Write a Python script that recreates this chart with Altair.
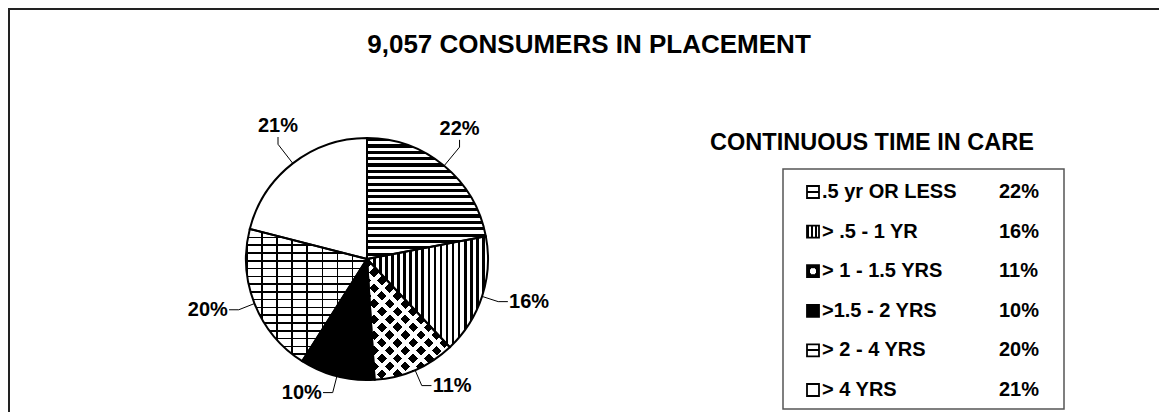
import math
import altair as alt
import pandas as pd

# ---------------- data ----------------
categories = [".5 yr OR LESS", "> .5 - 1 YR", "> 1 - 1.5 YRS", ">1.5 - 2 YRS", "> 2 - 4 YRS", "> 4 YRS"]
values = [22, 16, 11, 10, 20, 21]
title_text = "9,057 CONSUMERS IN PLACEMENT"
legend_title = "CONTINUOUS TIME IN CARE"

# ---------------- layout / style ----------------
W, H = 1151, 404
R = 121
CX, CY = 359, 251
FONT = "Liberation Sans, Arial, sans-serif"

xs = alt.Scale(domain=[-CX / R, (W - CX) / R], nice=False, zero=False)
ys = alt.Scale(domain=[-(H - CY) / R, CY / R], nice=False, zero=False)
ts = alt.Scale(domain=[0, 100], range=[0, 2 * math.pi])

df = pd.DataFrame({"cat": categories, "val": values, "order": list(range(len(values)))})
one = pd.DataFrame({"k": [0]})


def stripes(n, frac, c_on, c_off, x1=0, y1=0, x2=0, y2=1):
    stops = []
    for i in range(n):
        s, m, e = i / n, (i + frac) / n, (i + 1) / n
        stops += [
            {"offset": round(s, 5), "color": c_on},
            {"offset": round(m, 5), "color": c_on},
            {"offset": round(m, 5), "color": c_off},
            {"offset": round(e, 5), "color": c_off},
        ]
    return {"gradient": "linear", "x1": x1, "y1": y1, "x2": x2, "y2": y2, "stops": stops}


def wedge_box(a0, a1):
    pts = [(0.0, 0.0)]
    for a in [a0, a1] + [c for c in (0, 90, 180, 270, 360) if a0 < c < a1]:
        r = math.radians(a)
        pts.append((math.sin(r) * R, -math.cos(r) * R))
    xsx = [p[0] for p in pts]
    ysy = [p[1] for p in pts]
    return max(xsx) - min(xsx), max(ysy) - min(ysy)


# wedge bounding boxes (for pattern scaling only)
tot = sum(values)
angles = []
acc = 0
for v in values:
    angles.append((acc / tot * 360, (acc + v) / tot * 360))
    acc += v
boxes = [wedge_box(a0, a1) for a0, a1 in angles]

CLEAR = "rgba(0,0,0,0)"


def diag(w, h, period, frac, c_on, c_off, flip=False):
    k = (w + h) / (w * w + h * h)
    a, b = k * w, k * h
    n = max(1, round((w + h) / math.sqrt(2) / period))
    if flip:
        return stripes(n, frac, c_on, c_off, x1=1, y1=0, x2=1 - a, y2=b)
    return stripes(n, frac, c_on, c_off, x1=0, y1=0, x2=a, y2=b)


w0, h0 = boxes[0]
w1, h1 = boxes[1]
w2, h2 = boxes[2]
w4, h4 = boxes[4]

pie_fills = {
    0: [stripes(max(1, round(h0 / 6.3)), 0.5, "black", "white", 0, 0, 0, 1)],
    1: [stripes(max(1, round(w1 / 6.2)), 0.45, "black", "white", 0, 0, 1, 0)],
    2: ["white",
        diag(w2, h2, 11.5, 0.62, "black", CLEAR),
        diag(w2, h2, 11.5, 0.38, "white", CLEAR, flip=True)],
    3: ["black"],
    4: ["white",
        stripes(max(1, round(h4 / 7.6)), 0.2, "black", CLEAR, 0, 0, 0, 1),
        stripes(max(1, round(w4 / 15)), 0.1, "black", CLEAR, 0, 0, 1, 0)],
    5: ["white"],
}

icon_fills = {
    0: {"gradient": "linear", "x1": 0, "y1": 0, "x2": 0, "y2": 1,
        "stops": [{"offset": 0, "color": "white"}, {"offset": 0.4, "color": "white"},
                  {"offset": 0.4, "color": "black"}, {"offset": 0.6, "color": "black"},
                  {"offset": 0.6, "color": "white"}, {"offset": 1, "color": "white"}]},
    1: stripes(3, 0.6, "black", "white", 0, 0, 1, 0),
    2: {"gradient": "radial", "x1": 0.5, "y1": 0.5, "x2": 0.5, "y2": 0.5, "r1": 0, "r2": 0.5,
        "stops": [{"offset": 0, "color": "white"}, {"offset": 0.55, "color": "white"},
                  {"offset": 0.55, "color": "black"}, {"offset": 1, "color": "black"}]},
    3: "black",
    4: {"gradient": "linear", "x1": 0, "y1": 0, "x2": 0, "y2": 1,
        "stops": [{"offset": 0, "color": "white"}, {"offset": 0.42, "color": "white"},
                  {"offset": 0.42, "color": "black"}, {"offset": 0.58, "color": "black"},
                  {"offset": 0.58, "color": "white"}, {"offset": 1, "color": "white"}]},
    5: "white",
}

# ---------------- pie ----------------
pie_base = (
    alt.Chart(df)
    .transform_window(cum="sum(val)", sort=[alt.SortField("order")], frame=[None, 0])
    .transform_calculate(start="datum.cum - datum.val", cx="0", cy="0")
)

pos = dict(
    x=alt.X("cx:Q", scale=xs, axis=None),
    y=alt.Y("cy:Q", scale=ys, axis=None),
    theta=alt.Theta("start:Q", scale=ts, stack=False),
    theta2=alt.Theta2("cum:Q"),
)

layers = []

# outer frame
layers.append(alt.Chart(one).mark_rule(color="#222", strokeWidth=2).encode(
    x=alt.value(0), x2=alt.value(W), y=alt.value(1)))
layers.append(alt.Chart(one).mark_rule(color="#222", strokeWidth=2).encode(
    x=alt.value(1), y=alt.value(0), y2=alt.value(H)))

# titles
layers.append(alt.Chart(one).mark_text(
    text=title_text, font=FONT, fontSize=26, fontWeight="bold", align="center",
    baseline="alphabetic", color="black").encode(x=alt.value(581), y=alt.value(45)))
layers.append(alt.Chart(one).mark_text(
    text=legend_title, font=FONT, fontSize=23.5, fontWeight="bold", align="center",
    baseline="alphabetic", color="black").encode(x=alt.value(864), y=alt.value(142)))

# legend box
layers.append(alt.Chart(one).mark_rect(filled=False, stroke="#555", strokeWidth=1.5).encode(
    x=alt.value(775), x2=alt.value(1056), y=alt.value(161), y2=alt.value(401)))

leg_y = alt.Y("cat:N", sort=categories,
              scale=alt.Scale(type="point", domain=categories, range=[184, 382], padding=0),
              axis=None)
leg_base = alt.Chart(df).transform_calculate(pct="datum.val + '%'")

for i in range(len(categories)):
    layers.append(
        leg_base.transform_filter(alt.datum.order == i)
        .mark_square(size=144, filled=True, fill=icon_fills[i], stroke="black",
                     strokeWidth=1.8, opacity=1)
        .encode(x=alt.value(805), y=leg_y)
    )

layers.append(leg_base.mark_text(align="left", baseline="middle", font=FONT, fontSize=20,
                                 fontWeight="bold", color="black").encode(
    x=alt.value(814), y=leg_y, text="cat:N"))
layers.append(leg_base.mark_text(align="left", baseline="middle", font=FONT, fontSize=20,
                                 fontWeight="bold", color="black").encode(
    x=alt.value(991), y=leg_y, text="pct:N"))

# pie wedges with patterns
for i in range(len(categories)):
    for f in pie_fills[i]:
        layers.append(
            pie_base.transform_filter(alt.datum.order == i)
            .mark_arc(radius=R, fill=f, strokeWidth=0)
            .encode(**pos)
        )

# outlines
layers.append(pie_base.mark_arc(radius=R, filled=False, stroke="black", strokeWidth=2).encode(**pos))

# leader lines and labels
lead = pie_base.transform_calculate(
    a="(datum.start + datum.val / 2) / 100 * 2 * PI",
).transform_calculate(
    sx="sin(datum.a)", cyy="cos(datum.a)",
).transform_calculate(
    top="datum.cyy > 0.7",
).transform_calculate(
    x0="datum.sx", y0="datum.cyy",
    x1="(datum.top ? 1.2 : 1.14) * datum.sx", y1="(datum.top ? 1.2 : 1.14) * datum.cyy",
).transform_calculate(
    x2="datum.top ? datum.x1 : datum.x1 + (datum.sx > 0 ? 0.08 : -0.08)",
    y2="datum.top ? datum.y1 + 0.06 : datum.y1",
    pct="datum.val + '%'",
)

layers.append(lead.mark_rule(color="black", strokeWidth=1).encode(
    x=alt.X("x0:Q", scale=xs, axis=None), y=alt.Y("y0:Q", scale=ys, axis=None),
    x2="x1:Q", y2="y1:Q"))
layers.append(lead.mark_rule(color="black", strokeWidth=1).encode(
    x=alt.X("x1:Q", scale=xs, axis=None), y=alt.Y("y1:Q", scale=ys, axis=None),
    x2="x2:Q", y2="y2:Q"))

lab_style = dict(font=FONT, fontSize=20, fontWeight="bold", color="black")
layers.append(lead.transform_filter("datum.top").transform_calculate(ty="datum.y2 + 0.01")
              .mark_text(align="center", baseline="bottom", **lab_style).encode(
    x=alt.X("x2:Q", scale=xs, axis=None), y=alt.Y("ty:Q", scale=ys, axis=None), text="pct:N"))
layers.append(lead.transform_filter("!datum.top && datum.sx > 0").transform_calculate(tx="datum.x2 + 0.01")
              .mark_text(align="left", baseline="middle", **lab_style).encode(
    x=alt.X("tx:Q", scale=xs, axis=None), y=alt.Y("y2:Q", scale=ys, axis=None), text="pct:N"))
layers.append(lead.transform_filter("!datum.top && datum.sx <= 0").transform_calculate(tx="datum.x2 - 0.01")
              .mark_text(align="right", baseline="middle", **lab_style).encode(
    x=alt.X("tx:Q", scale=xs, axis=None), y=alt.Y("y2:Q", scale=ys, axis=None), text="pct:N"))

chart = (
    alt.layer(*layers)
    .resolve_scale(y="independent")
    .properties(width=W, height=H, padding=0, autosize=alt.AutoSizeParams(type="none"),
                background="white")
    .configure_view(stroke=None)
)

chart.save("out.html", embed_options={"renderer": "svg", "actions": False})
